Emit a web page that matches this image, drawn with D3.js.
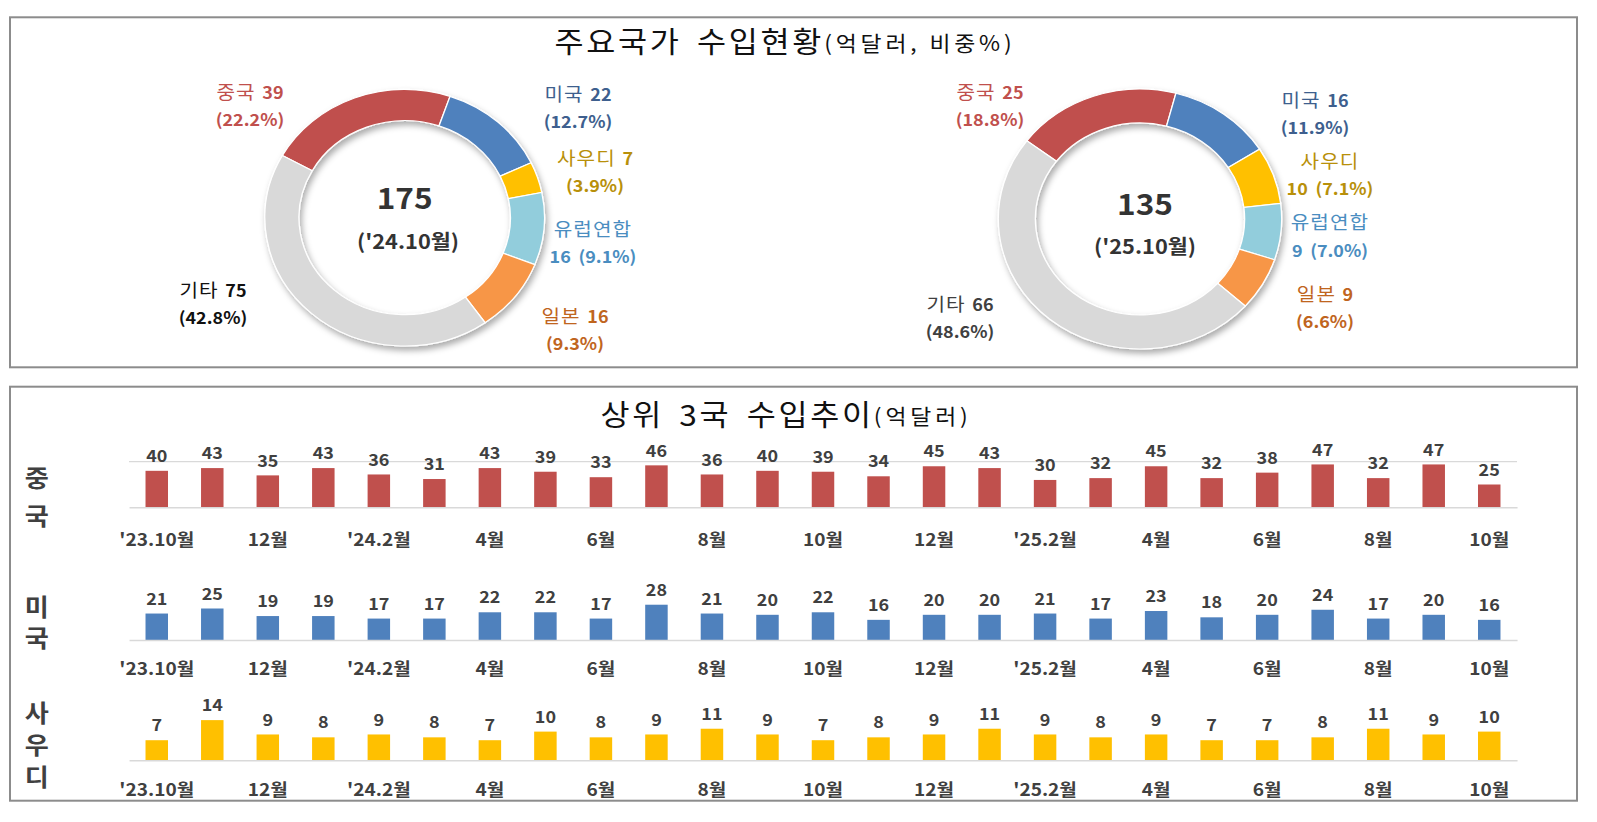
<!DOCTYPE html>
<html>
<head>
<meta charset="utf-8">
<script src="https://cdn.jsdelivr.net/npm/d3@7/dist/d3.min.js"></script>
<style>
  html,body{margin:0;padding:0;background:#fff;}
  text{font-family:"Noto Sans CJK KR","Noto Sans",sans-serif;}
</style>
</head>
<body>
<svg id="chart" width="1597" height="822"></svg>
<script>
// ---------- DATA ----------
const donutNames = ["중국","미국","사우디","유럽연합","일본","기타"];
const values2410 = [39,22,7,16,16,75];
const pcts2410   = [22.2,12.7,3.9,9.1,9.3,42.8];
const values2510 = [25,16,10,9,9,66];
const pcts2510   = [18.8,11.9,7.1,7.0,6.6,48.6];
const donutTotals  = [175,135];
const donutPeriods = ["('24.10월)","('25.10월)"];

const rowNames = ["중국","미국","사우디"];
const chinaImports = [40,43,35,43,36,31,43,39,33,46,36,40,39,34,45,43,30,32,45,32,38,47,32,47,25];
const usaImports   = [21,25,19,19,17,17,22,22,17,28,21,20,22,16,20,20,21,17,23,18,20,24,17,20,16];
const saudiImports = [7,14,9,8,9,8,7,10,8,9,11,9,7,8,9,11,9,8,9,7,7,8,11,9,10];
const tickLabels = ["'23.10월","12월","'24.2월","4월","6월","8월","10월","12월","'25.2월","4월","6월","8월","10월"];

// ---------- STYLE / LAYOUT ----------
const K = 1.09;               // horizontal stretch of the reference
const X = v => v / K;
const sliceColors = ["#C0504D","#4F81BD","#FFC000","#92CDDC","#F79646","#D9D9D9"];
const svg = d3.select("#chart");

// panels
svg.append("rect").attr("x",10).attr("y",17.3).attr("width",1567).attr("height",350)
   .attr("fill","none").attr("stroke","#8c8c8c").attr("stroke-width",2);
svg.append("rect").attr("x",10).attr("y",386.7).attr("width",1567).attr("height",414)
   .attr("fill","none").attr("stroke","#8c8c8c").attr("stroke-width",2);

const defs = svg.append("defs");
const f = defs.append("filter").attr("id","shadow").attr("x","-20%").attr("y","-20%").attr("width","140%").attr("height","150%");
f.append("feDropShadow").attr("dx",2).attr("dy",4).attr("stdDeviation",3)
 .attr("flood-color","#000").attr("flood-opacity",0.33);

const g = svg.append("g").attr("transform",`scale(${K},1)`);

// titles
function title(x, y, words, small){
  const t = g.append("text").attr("x",X(x)).attr("y",y).attr("text-anchor","middle")
    .attr("dominant-baseline","central").attr("fill","#111");
  words.forEach((w,i) => {
    t.append("tspan").attr("font-size",29).attr("letter-spacing",2.5)
      .attr("dx", i === 0 ? 0 : 14).text(w);
  });
  t.append("tspan").attr("font-size",21).attr("letter-spacing",3.5).text(small);
}
title(785, 41, ["주요국가","수입현황"], "(억달러, 비중%)");
title(786, 414, ["상위","3국","수입추이"], "(억달러)");

// ---------- DONUTS ----------
const donuts = [
  {cx:404.7, cy:217.7, rOut:128.3, rIn:97, start:-61, values:values2410, pcts:pcts2410,
   total:donutTotals[0], period:donutPeriods[0],
   totalPos:[404.7,196.7], periodPos:[408,240],
   split:[false,false,false,true,false,false],
   labelColors:["#C0504D","#3E5F8E","#B8900A","#4A8DC0","#C0651E","#111111"],
   labelPos:[[250,91.7],[578,93.3],[595,157.7],[593,228.3],[575,315],[213,289.3]]},
  {cx:1140, cy:219, rOut:130, rIn:96, start:-53, values:values2510, pcts:pcts2510,
   total:donutTotals[1], period:donutPeriods[1],
   totalPos:[1145,203], periodPos:[1145,245],
   split:[false,false,true,true,false,false],
   labelColors:["#C0504D","#3E5F8E","#B8900A","#4A8DC0","#C0651E","#404040"],
   labelPos:[[990,91.7],[1315,99.3],[1330,160],[1330,221.7],[1325,293.3],[960,303.3]]}
];

donuts.forEach(d => {
  const pie = d3.pie().sort(null).value(v => v)
    .startAngle(d.start*Math.PI/180).endAngle(d.start*Math.PI/180 + 2*Math.PI);
  const arc = d3.arc().innerRadius(d.rIn).outerRadius(d.rOut);
  const dg = g.append("g").attr("transform",`translate(${X(d.cx)},${d.cy})`);
  dg.append("g").attr("filter","url(#shadow)")
    .selectAll("path").data(pie(d.pcts)).join("path")
    .attr("d",arc).attr("fill",(p,i)=>sliceColors[i])
    .attr("stroke","#ffffff").attr("stroke-width",1.2);

  g.append("text").attr("x",X(d.totalPos[0])).attr("y",d.totalPos[1])
    .attr("text-anchor","middle").attr("dominant-baseline","central")
    .attr("font-size",29).attr("font-weight",700).attr("fill","#333").text(d.total);
  g.append("text").attr("x",X(d.periodPos[0])).attr("y",d.periodPos[1])
    .attr("text-anchor","middle").attr("dominant-baseline","central")
    .attr("font-size",20).attr("font-weight",700).attr("fill","#333").text(d.period);

  donutNames.forEach((name,i) => {
    const [lx,ly] = d.labelPos[i];
    const pctTxt = "(" + d.pcts[i].toFixed(1) + "%)";
    const l1 = g.append("text").attr("x",X(lx)).attr("y",ly)
      .attr("text-anchor","middle").attr("dominant-baseline","central")
      .attr("fill",d.labelColors[i]);
    const l2 = g.append("text").attr("x",X(lx)).attr("y",ly+27.5)
      .attr("text-anchor","middle").attr("dominant-baseline","central")
      .attr("font-size",16.5).attr("font-weight",600).attr("fill",d.labelColors[i]);
    if (d.split[i]) {
      l1.attr("font-size",18.5).attr("letter-spacing",1).text(name);
      l2.append("tspan").text(d.values[i]);
      l2.append("tspan").attr("dx",7).text(pctTxt);
    } else {
      l1.append("tspan").attr("font-size",18.5).attr("letter-spacing",1).text(name);
      l1.append("tspan").attr("dx",6).attr("font-size",16.5).attr("font-weight",600).text(d.values[i]);
      l2.text(pctTxt);
    }
  });
});

// ---------- BAR ROWS ----------
const idx = d3.range(chinaImports.length);
const xBand = d3.scaleBand().domain(idx).range([X(129), X(1517)])
  .paddingInner(0.595).paddingOuter(0.2975);

const rows = [
  {name:rowNames[0], data:chinaImports, color:"#C0504D", y0:507.3, pxPerUnit:0.912, max:50, grid:true,
   tickY:538.3, nameY:476.7, nameStep:37.5},
  {name:rowNames[1], data:usaImports, color:"#4F81BD", y0:640, pxPerUnit:1.26, max:30, grid:false,
   tickY:667.3, nameY:605, nameStep:31.7},
  {name:rowNames[2], data:saudiImports, color:"#FFC000", y0:760.3, pxPerUnit:2.87, max:15, grid:false,
   tickY:788.3, nameY:711.5, nameStep:32.2}
];

rows.forEach(r => {
  const y = d3.scaleLinear().domain([0, r.max]).range([r.y0, r.y0 - r.max*r.pxPerUnit]);
  if (r.grid) {
    g.append("line").attr("x1",X(129)).attr("x2",X(1517)).attr("y1",y(r.max)).attr("y2",y(r.max))
      .attr("stroke","#d9d9d9").attr("stroke-width",1.3);
  }
  g.append("g").selectAll("rect").data(r.data).join("rect")
    .attr("x",(v,i)=>xBand(i)).attr("width",xBand.bandwidth())
    .attr("y",v=>y(v)).attr("height",v=>y(0)-y(v)).attr("fill",r.color);
  g.append("g").selectAll("text").data(r.data).join("text")
    .attr("x",(v,i)=>xBand(i)+xBand.bandwidth()/2).attr("y",v=>y(v)-16)
    .attr("text-anchor","middle").attr("dominant-baseline","central")
    .attr("font-size",16.5).attr("font-weight",700).attr("fill","#404040").text(v=>v);

  const axis = d3.axisBottom(xBand)
    .tickValues(idx.filter(i => i % 2 === 0))
    .tickFormat(i => tickLabels[i/2])
    .tickSize(0).tickSizeOuter(0);
  const ag = g.append("g").attr("transform",`translate(0,${r.y0})`).call(axis);
  ag.select(".domain").attr("stroke","#d9d9d9").attr("stroke-width",1.6);
  ag.selectAll(".tick text").attr("y", r.tickY - r.y0).attr("dy",null)
    .attr("dominant-baseline","central")
    .attr("font-family","'Noto Sans CJK KR',sans-serif")
    .attr("font-size",17.5).attr("font-weight",600).attr("fill","#404040");

  // vertical row name as one text element with stacked tspans
  const nt = g.append("text").attr("text-anchor","middle").attr("dominant-baseline","central")
    .attr("font-size",24).attr("font-weight",700).attr("fill","#404040");
  nt.selectAll("tspan").data(Array.from(r.name)).join("tspan")
    .attr("x",X(36.7)).attr("y",(c,i)=>r.nameY + i*r.nameStep)
    .attr("dominant-baseline","central").text(c=>c);
});
</script>
</body>
</html>
